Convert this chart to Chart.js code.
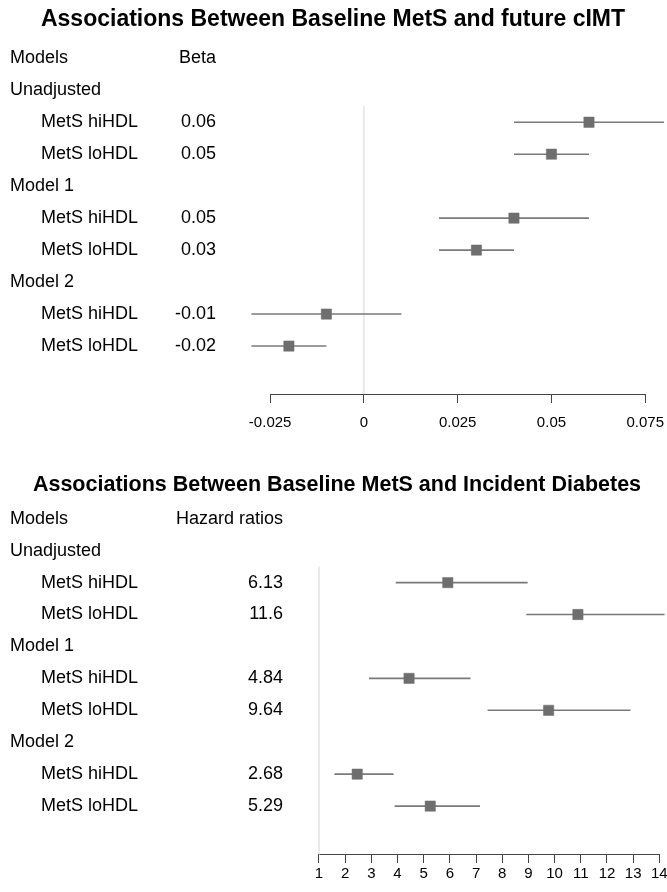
<!DOCTYPE html>
<html><head><meta charset="utf-8">
<script src="https://cdn.jsdelivr.net/npm/chart.js@4.4.1/dist/chart.umd.min.js"></script>
<style>html,body{margin:0;padding:0;background:#fff}#wrap{position:relative;width:667px;height:892px}canvas{display:block}</style>
</head><body><div id="wrap"><canvas id="cTop" width="667" height="446"></canvas><canvas id="cBottom" width="667" height="446"></canvas></div>
<script>
// ---- data ----
const rowLabels = ["Models","Unadjusted","MetS hiHDL","MetS loHDL","Model 1","MetS hiHDL","MetS loHDL","Model 2","MetS hiHDL","MetS loHDL"];
const rowIsSub = [false,false,true,true,false,true,true,false,true,true];
const dataRows = [2,3,5,6,8,9];

const topTitle = "Associations Between Baseline MetS and future cIMT";
const topValueText = ["Beta","","0.06","0.05","","0.05","0.03","","-0.01","-0.02"];
const topEst = [0.06,0.05,0.04,0.03,-0.01,-0.02];
const topLo  = [0.04,0.04,0.02,0.02,-0.03,-0.03];
const topHi  = [0.08,0.06,0.06,0.04,0.01,-0.01];
const topTicks = [-0.025,0,0.025,0.05,0.075];
const topTickLabels = ["-0.025","0","0.025","0.05","0.075"];
const topRef = 0;

const botTitle = "Associations Between Baseline MetS and Incident Diabetes";
const botValueText = ["Hazard ratios","","6.13","11.6","","4.84","9.64","","2.68","5.29"];
const botEst = [5.92,10.89,4.44,9.77,2.46,5.25];
const botLo  = [3.93,8.92,2.91,7.44,1.59,3.89];
const botHi  = [8.97,14.2,6.79,12.9,3.85,7.15];
const botTicks = [1,2,3,4,5,6,7,8,9,10,11,12,13,14];
const botTickLabels = ["1","2","3","4","5","6","7","8","9","10","11","12","13","14"];
const botRef = 1;

// ---- rendering ----
const FAM = '"Liberation Sans", Arial, Helvetica, sans-serif';
Chart.defaults.font.family = FAM;

function forest(canvasId, o) {
  const textPlugin = {
    id: 'forestText',
    afterDraw(chart) {
      const ctx = chart.ctx, ys = chart.scales.y, xs = chart.scales.x;
      ctx.save();
      // axis line between first and last ticks
      const yb = chart.chartArea.bottom + 0.5;
      ctx.strokeStyle = '#444'; ctx.lineWidth = 1;
      ctx.beginPath();
      ctx.moveTo(Math.round(xs.getPixelForValue(o.ticks[0])) + 0.5, yb);
      ctx.lineTo(Math.round(xs.getPixelForValue(o.ticks[o.ticks.length-1])) + 0.5, yb);
      ctx.stroke();
      // title
      ctx.fillStyle = '#000';
      ctx.font = 'bold ' + o.titleSize + 'px ' + FAM;
      ctx.textAlign = 'center'; ctx.textBaseline = 'middle';
      ctx.fillText(o.title, o.titleX, o.titleY);
      // table text
      ctx.font = '18px ' + FAM;
      rowLabels.forEach((lab, i) => {
        const y = ys.getPixelForValue(i);
        ctx.textAlign = 'left';
        ctx.fillText(lab, rowIsSub[i] ? 41 : 10, y);
        if (o.valueText[i]) {
          ctx.textAlign = 'right';
          ctx.fillText(o.valueText[i], o.valueX, y);
        }
      });
      ctx.restore();
    }
  };
  const ciSets = dataRows.map((r, k) => ({
    type: 'scatter', showLine: true, order: 1,
    data: [{x: o.lo[k], y: r}, {x: o.hi[k], y: r}],
    borderColor: '#7a7a7a', borderWidth: 1.6, pointRadius: 0
  }));
  return new Chart(document.getElementById(canvasId), {
    type: 'scatter',
    data: {
      datasets: [
        { order: 0, data: dataRows.map((r, k) => ({x: o.est[k], y: r})),
          pointStyle: 'rect', pointRadius: 7.3, backgroundColor: '#6e6e6e', borderColor: '#6e6e6e', borderWidth: 0.5 },
        ...ciSets,
        { order: 2, showLine: true, data: [{x: o.ref, y: 1.5}, {x: o.ref, y: 10.5}],
          borderColor: '#e6e6e6', borderWidth: 1, pointRadius: 0 }
      ]
    },
    options: {
      responsive: false, animation: false, events: [],
      layout: { autoPadding: false, padding: { top: o.padTop, left: o.padLeft, right: 0, bottom: 0 } },
      plugins: { legend: { display: false }, tooltip: { enabled: false }, title: { display: false } },
      scales: {
        y: { type: 'linear', min: -1, max: 10.5, reverse: true, display: false },
        x: {
          type: 'linear', position: 'bottom', min: o.min, max: o.max,
          afterBuildTicks: s => { s.ticks = o.ticks.map(v => ({value: v})); },
          afterFit: s => { s.height = o.axisH; s.paddingLeft = 0; s.paddingRight = 0; },
          ticks: { callback: (v, i) => o.tickLabels[i], font: { size: 15 }, color: '#000',
                   padding: o.tickPad, maxRotation: 0, autoSkip: false },
          grid: { drawOnChartArea: false, drawTicks: true, tickLength: 9, color: '#444', lineWidth: 1 },
          border: { display: false }
        }
      }
    },
    plugins: [textPlugin]
  });
}

forest('cTop', {
  title: topTitle, titleY: 20, titleX: 333, titleSize: 23, valueText: topValueText, valueX: 216,
  est: topEst, lo: topLo, hi: topHi, ref: topRef,
  ticks: topTicks, tickLabels: topTickLabels,
  min: -0.0357, max: 0.0808, padTop: 26.3, padLeft: 230, axisH: 52, tickPad: 11
});
forest('cBottom', {
  title: botTitle, titleY: 38.6, titleX: 337, titleSize: 21.5, valueText: botValueText, valueX: 283,
  est: botEst, lo: botLo, hi: botHi, ref: botRef,
  ticks: botTicks, tickLabels: botTickLabels,
  min: 0.2743, max: 14.293, padTop: 40.8, padLeft: 300, axisH: 38, tickPad: 2
});
</script>
</body></html>
